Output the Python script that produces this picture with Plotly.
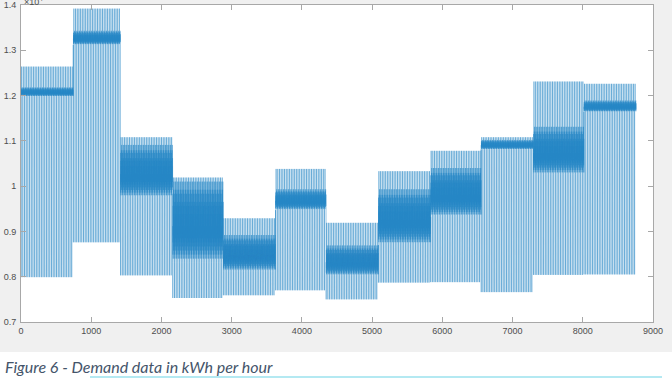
import numpy as np
import plotly.graph_objects as go

# Monthly levels (kWh per hour)
months = ["Jan", "Feb", "Mar", "Apr", "May", "Jun", "Jul", "Aug", "Sep", "Oct", "Nov", "Dec"]
hours_in_month = [744, 672, 744, 720, 744, 720, 744, 744, 720, 744, 720, 744]
month_min = [7990, 8760, 8030, 7530, 7590, 7700, 7500, 7870, 7880, 7660, 8040, 8050]
band_low = [11980, 13120, 9740, 8310, 8120, 9470, 8020, 8700, 9320, 10810, 10250, 11640]
band_high = [12180, 13430, 10910, 10100, 8920, 9930, 8690, 9930, 10400, 11020, 11310, 11890]
month_max = [12640, 13920, 11080, 10190, 9290, 10380, 9190, 10330, 10780, 11080, 12310, 12260]

# Typical daily shape, as a level index: 0 = month min, 1 = band low, 2 = band high, 3 = month max
daily_level = [1.00, 0.00, 1.45, 1.10, 1.85, 1.25, 1.70, 1.05, 3.00, 1.95, 1.35, 1.60,
               1.15, 1.90, 1.50, 1.30, 1.80, 2.00, 1.40, 1.20, 1.65, 1.75, 1.55, 1.05]

x_ticks = [0, 1000, 2000, 3000, 4000, 5000, 6000, 7000, 8000, 9000]
y_ticks = [7000, 8000, 9000, 10000, 11000, 12000, 13000, 14000]
y_tick_text = ["0.7", "0.8", "0.9", "1", "1.1", "1.2", "1.3", "1.4"]

demand = []
for m in range(12):
    levels = [month_min[m], band_low[m], band_high[m], month_max[m]]
    day_vals = np.interp(daily_level, [0, 1, 2, 3], levels)
    days = hours_in_month[m] // 24
    demand.extend(list(day_vals) * days)
demand = np.array(demand)
hours = np.arange(1, len(demand) + 1)

fig = go.Figure()
fig.add_trace(go.Scatter(
    x=hours, y=demand, mode="lines",
    line=dict(color="#0072BD", width=0.45, simplify=False),
    opacity=0.85,
    hoverinfo="skip", showlegend=False,
))

axis_line = "#a8a8a8"
tick_font = dict(family="Liberation Sans, Arial, sans-serif", size=9, color="#4d4d4d")
common = dict(showgrid=False, zeroline=False, showline=True, linecolor=axis_line, linewidth=1,
              mirror="ticks", ticks="inside", ticklen=5, tickcolor=axis_line,
              tickfont=tick_font, automargin=False)
fig.update_xaxes(range=[0, 9000], tickvals=x_ticks, ticktext=[str(v) for v in x_ticks], **common)
fig.update_yaxes(range=[7000, 14000], tickvals=y_ticks, ticktext=y_tick_text, ticklabelstandoff=2, **common)

H = 317.0  # plot-area height in px
W = 632.0  # plot-area width in px
fig.update_layout(
    width=672, height=379,
    margin=dict(l=21, r=19, t=5, b=57),
    paper_bgcolor="#f0f0f0", plot_bgcolor="white",
    shapes=[
        dict(type="rect", xref="paper", yref="paper", x0=-0.05, x1=1.05,
             y0=-(390 - 322) / H, y1=-(352 - 322) / H,
             fillcolor="white", line=dict(width=0), layer="below"),
        dict(type="line", xref="paper", yref="paper",
             x0=(90 - 21) / W, x1=(662 - 21) / W,
             y0=-(377 - 322) / H, y1=-(377 - 322) / H,
             line=dict(color="#6ad4e6", width=1.2)),
    ],
    annotations=[
        dict(text="×10<sup>4</sup>", xref="paper", yref="paper", x=0.002, y=1,
             xanchor="left", yanchor="bottom", yshift=-4, showarrow=False,
             font=dict(family="Liberation Sans, Arial, sans-serif", size=9, color="#4d4d4d")),
        dict(text="<i>Figure 6 - Demand data in kWh per hour</i>", xref="paper", yref="paper",
             x=-18 / W, y=-(366 - 322) / H, xanchor="left", yanchor="middle",
             showarrow=False,
             font=dict(family="Lato, Open Sans, sans-serif", size=16, color="#44546a")),
    ],
)

fig.write_html("out.html", config={"displayModeBar": False},
               post_script="document.body.style.margin='0';")
